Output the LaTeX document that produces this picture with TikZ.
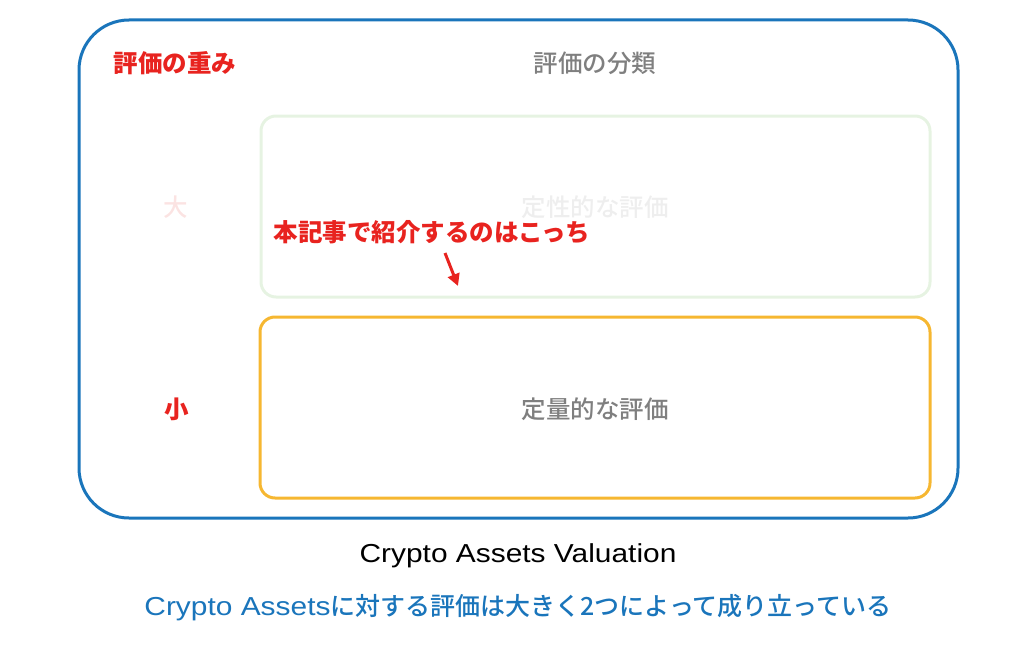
\documentclass[tikz,border=0pt]{standalone}
\usepackage{fontspec}
\usepackage{xcolor}
\usepackage{tikz}
\usetikzlibrary{arrows.meta}
\setmainfont{Noto Sans CJK JP}
\newfontfamily\cjk{Noto Sans CJK JP}
\newfontfamily\cjkmed{Noto Sans CJK JP Medium}
\newfontfamily\latin[FakeStretch=1.15]{Liberation Sans}

\definecolor{frameblue}{HTML}{1A75BB}
\definecolor{notered}{HTML}{E8231F}
\definecolor{boxyellow}{HTML}{F6B731}
\definecolor{boxgreen}{HTML}{E6F3E2}
\definecolor{labelgray}{HTML}{7F7F7F}
\definecolor{fadegray}{HTML}{EEEEEE}
\definecolor{fadepink}{HTML}{FBE3E2}

\tikzset{
    label/.style={font=\cjkmed\fontsize{24.5}{28}\selectfont, inner sep=0pt},
    boldlabel/.style={label, font=\cjk\bfseries\fontsize{24.5}{28}\selectfont},
    catbox/.style={rounded corners=15pt, line width=3pt}
}

\begin{document}
\begin{tikzpicture}[x=1pt, y=-1pt]
    \useasboundingbox (0,0) rectangle (1024,669);

    % Outer frame
    \draw[frameblue, line width=3pt, rounded corners=50pt] (79,20) rectangle (958,518);
    \node[boldlabel, text=notered] (weight) at (175,63) {評価の重み};
    \node[label, text=labelgray] (kind) at (595,63) {評価の分類};

    % Qualitative (faded)
    \draw[catbox, boxgreen] (261,116) rectangle (930,297);
    \node[label, text=fadegray] (quali) at (595,207) {定性的な評価};
    \node[label, text=fadepink] (big) at (176,207) {大};

    % Quantitative
    \draw[catbox, boxyellow] (260,317) rectangle (930,498);
    \node[label, text=labelgray] (quanti) at (595,409) {定量的な評価};
    \node[boldlabel, text=notered] (small) at (177,409) {小};

    % Note and arrow
    \node[boldlabel, text=notered] (note) at (432,232) {本記事で紹介するのはこっち};
    \coordinate (tail) at (445,253);
    \coordinate (tip) at (458,286);
    \draw[notered, line width=3pt, -{Triangle[length=12pt, width=12pt]}] (tail) -- (tip);

    % Captions
    \node[label, font=\latin\fontsize{26}{30}\selectfont] (title) at (518,556) {Crypto Assets Valuation};
    \node[label, font=\cjkmed\fontsize{25}{28}\selectfont, text=frameblue] (caption) at (518,608) {{\latin\fontsize{26}{30}\selectfont Crypto Assets}に対する評価は大きく2つによって成り立っている};
\end{tikzpicture}
\end{document}
